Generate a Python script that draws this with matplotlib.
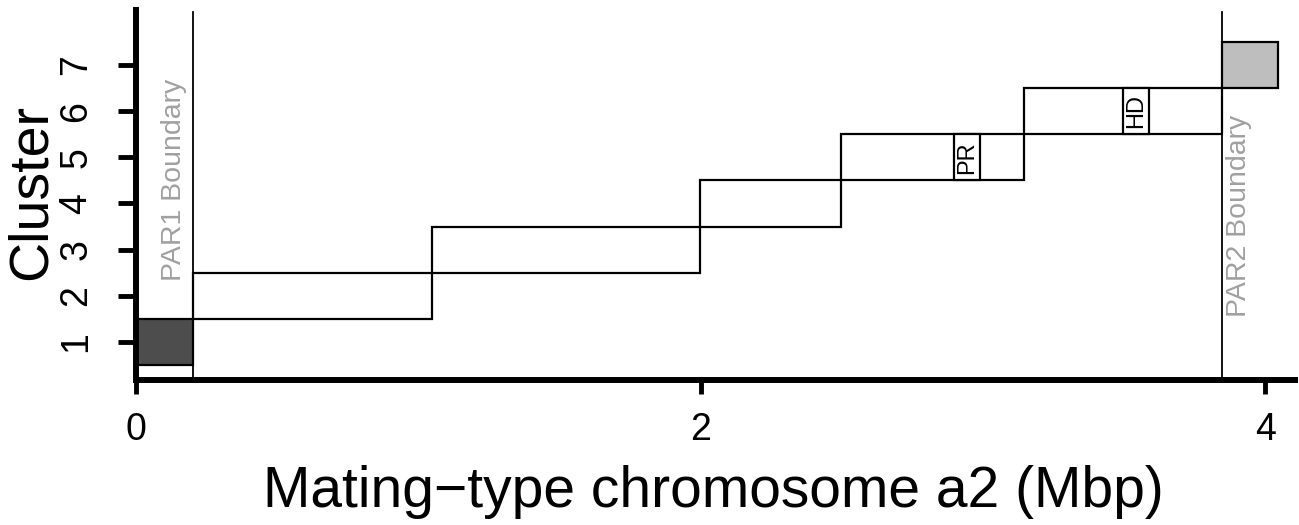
import numpy as np
import matplotlib
matplotlib.use("Agg")
import matplotlib.pyplot as plt

plt.rcParams['font.family'] = ['Liberation Sans', 'DejaVu Sans']

# cluster blocks along the chromosome (Mbp)
cluster = np.array([1, 2, 3, 4, 5, 6, 7])
start = np.array([0.0, 0.202, 1.049, 1.998, 2.498, 3.146, 3.848])
end = np.array([0.202, 1.049, 1.998, 2.498, 3.146, 3.848, 4.046])
fill = ['#4D4D4D', 'white', 'white', 'white', 'white', 'white', '#BEBEBE']

# PAR boundaries
par_x = [0.202, 3.848]
par_lab = ['PAR1 Boundary', 'PAR2 Boundary']

# gene labels
gene_lab = ['PR', 'HD']
gene_x = [2.945, 3.543]
gene_y = [5, 6]

fig = plt.figure(figsize=(12.99, 5.25), dpi=100)
ax = fig.add_axes([136/1299, 1-380/525, (1295-136)/1299, 370/525])

ax.bar(start, 1, width=end-start, bottom=cluster-0.5, align='edge',
       color=fill, edgecolor='black', linewidth=1.6, zorder=2)

for xv in par_x:
    ax.axvline(xv, ymin=0, ymax=0.995, color='black', lw=1.3, zorder=3)
ax.text(par_x[0]-0.02, 2.32, par_lab[0], rotation=90, ha='right', va='bottom',
        color='#A0A0A0', fontsize=20.5)
ax.text(par_x[1]+0.015, 1.54, par_lab[1], rotation=90, ha='left', va='bottom',
        color='#A0A0A0', fontsize=20.5)

ax.bar(gene_x, 1, width=0.092, bottom=np.array(gene_y)-0.5, align='center',
       color='white', edgecolor='black', linewidth=1.6, zorder=4)
for lab, gx, gy in zip(gene_lab, gene_x, gene_y):
    ax.text(gx, gy, lab, rotation=90, ha='center', va='center', fontsize=17, zorder=5)

ax.set_xlim(0, 4.106)
ax.set_ylim(0.177, 8.19)
ax.set_xticks([0, 2, 4])
ax.set_yticks(cluster)
for s in ['top', 'right']:
    ax.spines[s].set_visible(False)
for s in ['left', 'bottom']:
    ax.spines[s].set_linewidth(4.3)
    ax.spines[s].set_capstyle('projecting')
ax.tick_params(axis='x', length=10, width=3.5, labelsize=27, pad=13)
ax.tick_params(axis='y', length=13, width=3.5, labelsize=27, pad=17, labelrotation=90)
for t in ax.get_yticklabels():
    t.set_va('center')

fig.text(713/1299, 1-507/525, 'Mating\u2212type chromosome a2 (Mbp)', ha='center',
         va='baseline', fontsize=41)
fig.text(32/1299, 1-192/525, 'Cluster', rotation=90, ha='center', va='center', fontsize=40)

fig.savefig('out.png', dpi=100)
